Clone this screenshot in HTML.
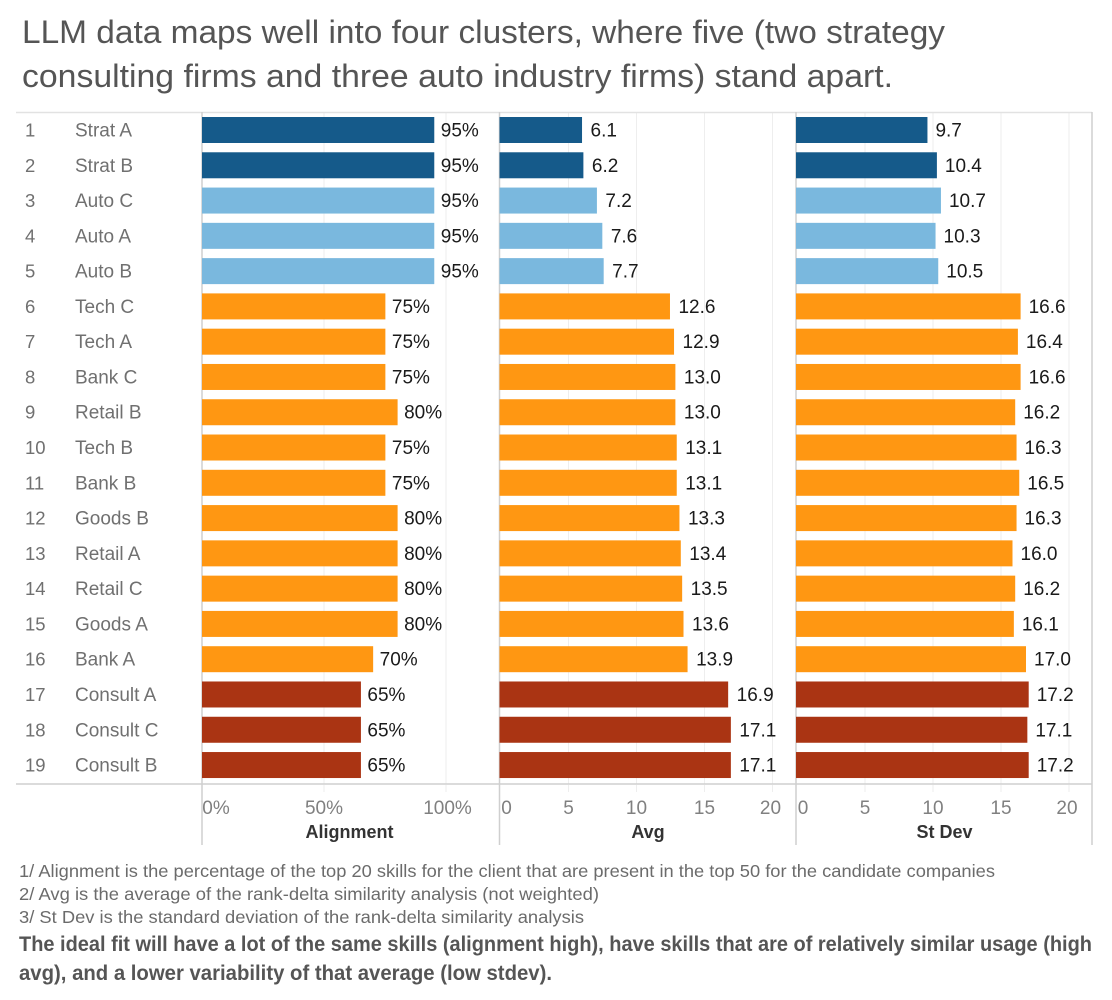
<!DOCTYPE html>
<html lang="en">
<head>
<meta charset="utf-8">
<title>LLM data clusters</title>
<style>
html,body{margin:0;padding:0;background:#fff;width:1112px;height:1000px;overflow:hidden}
svg{display:block;font-family:"Liberation Sans",sans-serif}
</style>
</head>
<body>
<svg id="chart" xmlns="http://www.w3.org/2000/svg" width="1112" height="1000" viewBox="0 0 1112 1000">
  <g fill="#555555" font-size="32.5">
    <text x="22" y="43" textLength="923" lengthAdjust="spacingAndGlyphs">LLM data maps well into four clusters, where five (two strategy</text>
    <text x="22" y="87" textLength="871" lengthAdjust="spacingAndGlyphs">consulting firms and three auto industry firms) stand apart.</text>
  </g>
  <g id="plot"></g>
  <g fill="#6b6b6b" font-size="17.5">
    <text x="19" y="877" textLength="976" lengthAdjust="spacingAndGlyphs">1/ Alignment is the percentage of the top 20 skills for the client that are present in the top 50 for the candidate companies</text>
    <text x="19" y="900" textLength="580" lengthAdjust="spacingAndGlyphs">2/ Avg is the average of the rank-delta similarity analysis (not weighted)</text>
    <text x="19" y="923" textLength="565" lengthAdjust="spacingAndGlyphs">3/ St Dev is the standard deviation of the rank-delta similarity analysis</text>
  </g>
  <g fill="#555555" font-size="21" font-weight="700">
    <text x="19" y="951" textLength="1073" lengthAdjust="spacingAndGlyphs">The ideal fit will have a lot of the same skills (alignment high), have skills that are of relatively similar usage (high</text>
    <text x="19" y="980" textLength="533" lengthAdjust="spacingAndGlyphs">avg), and a lower variability of that average (low stdev).</text>
  </g>
</svg>
<script>
var firms = ['Strat A','Strat B','Auto C','Auto A','Auto B','Tech C','Tech A','Bank C','Retail B','Tech B','Bank B','Goods B','Retail A','Retail C','Goods A','Bank A','Consult A','Consult C','Consult B'];
var clusters = ['strategy','strategy','auto','auto','auto','mid','mid','mid','mid','mid','mid','mid','mid','mid','mid','mid','consult','consult','consult'];
var alignment = [95,95,95,95,95,75,75,75,80,75,75,80,80,80,80,70,65,65,65];
var avg = [6.1,6.2,7.2,7.6,7.7,12.6,12.9,13.0,13.0,13.1,13.1,13.3,13.4,13.5,13.6,13.9,16.9,17.1,17.1];
var stdev = [9.7,10.4,10.7,10.3,10.5,16.6,16.4,16.6,16.2,16.3,16.5,16.3,16.0,16.2,16.1,17.0,17.2,17.1,17.2];
var alignmentTicks = [0,50,100];
var avgTicks = [0,5,10,15,20];
var stdevTicks = [0,5,10,15,20];

var clusterColor = {strategy:'#155a8a', auto:'#7ab8de', mid:'#ff9712', consult:'#aa3413'};
var NS = 'http://www.w3.org/2000/svg';
var plot = document.getElementById('plot');
function mk(tag, attrs, parent, text){
  var el = document.createElementNS(NS, tag);
  for (var k in attrs) el.setAttribute(k, attrs[k]);
  if (text !== undefined) el.textContent = text;
  (parent || plot).appendChild(el);
  return el;
}
function rowY(i){ return 130 + i * 35.28; }
var panels = [
  {key:'alignment', title:'Alignment', values:alignment, ticks:alignmentTicks, x0:202, scale:2.445, gridX0:202, gridScale:2.44, edge:202, titleX:349.5, suffix:'%', digits:0, tickOff:[14,0,1.5], labelGap:6.5},
  {key:'avg', title:'Avg', values:avg, ticks:avgTicks, x0:499.5, scale:13.53, gridX0:500.5, gridScale:13.6, edge:499.5, titleX:648, suffix:'', digits:1, tickOff:[6,0,0,0,-2], labelGap:8.5},
  {key:'st-dev', title:'St Dev', values:stdev, ticks:stdevTicks, x0:796.5, scale:13.5, gridX0:797, gridScale:13.6, edge:796, titleX:944.5, suffix:'', digits:1, tickOff:[6,0,0,0,-2], labelGap:8}
];

// gridlines
panels.forEach(function(p){
  var grid = mk('g', {}, plot);
  
  
  p.ticks.forEach(function(t){
    var x = p.gridX0 + t * p.gridScale;
    if (t === 0) return;
    var g = mk('line', {x1:x, x2:x, y1:113, y2:784, stroke:'#eeeeee', 'stroke-width':1}, grid);
    
    
    var tk = mk('line', {x1:x, x2:x, y1:785, y2:792, stroke:'#eeeeee', 'stroke-width':1}, grid);
    
    
  });
});

// frame
var frame = mk('g', {stroke:'#cfcfcf', 'stroke-width':1.5, fill:'none'}, plot);


var topLine = mk('line', {x1:16, x2:1092, y1:112.5, y2:112.5, stroke:'#e2e2e2'}, frame);


var bottomLine = mk('line', {x1:16, x2:1092, y1:784, y2:784}, frame);


[202, 499.5, 796, 1092].forEach(function(x){
  var v = mk('line', {x1:x, x2:x, y1:112, y2:845}, frame);
  
  
});

// row labels
firms.forEach(function(name, i){
  var y = rowY(i) + 6.5;
  var r = mk('text', {x:25, y:y, 'font-size':18.5, fill:'#707070'}, plot, String(i + 1));
  
  
  var n = mk('text', {x:75, y:y, 'font-size':19, fill:'#707070'}, plot, name);
  
  
});

// bars, values, axes
panels.forEach(function(p){
  p.values.forEach(function(v, i){
    var cy = rowY(i);
    var w = v * p.scale + (p.x0 - p.edge);
    var bar = mk('rect', {x:p.edge, y:cy - 13, width:w, height:26, fill:clusterColor[clusters[i]]}, plot);
    
    
    var lbl = mk('text', {x:p.edge + w + p.labelGap, y:cy + 6.5, 'font-size':19, fill:'#1a1a1a'}, plot, v.toFixed(p.digits) + p.suffix);
    
    
  });
  p.ticks.forEach(function(t, i){
    var x = p.gridX0 + t * p.gridScale + p.tickOff[i];
    var tl = mk('text', {x:x, y:814, 'font-size':19, fill:'#808080', 'text-anchor':'middle'}, plot, t + p.suffix);
    
    
  });
  var at = mk('text', {x:p.titleX, y:838, 'font-size':18, 'font-weight':700, fill:'#333333', 'text-anchor':'middle'}, plot, p.title);
  
  
});
</script>
</body>
</html>
